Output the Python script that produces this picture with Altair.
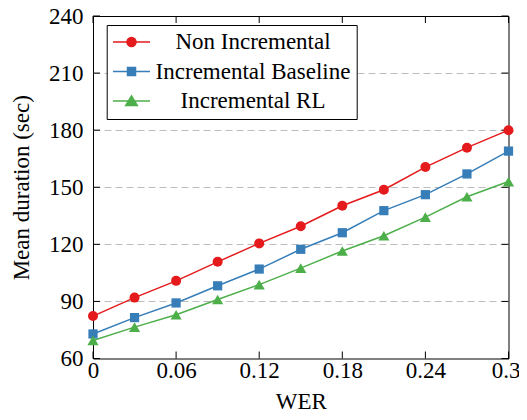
import altair as alt
import pandas as pd

# ---------------- data ----------------
wer = [0, 0.03, 0.06, 0.09, 0.12, 0.15, 0.18, 0.21, 0.24, 0.27, 0.3]
non_incremental = [82.3, 92.0, 100.8, 110.8, 120.5, 129.5, 140.3, 148.7, 160.6, 170.8, 180.0]
incremental_baseline = [72.9, 81.5, 89.2, 98.2, 107.0, 117.4, 126.1, 137.7, 146.1, 157.0, 169.0]
incremental_rl = [69.5, 76.5, 83.0, 91.0, 98.8, 107.5, 116.5, 124.5, 134.3, 145.0, 153.0]

series_names = ["Non Incremental", "Incremental Baseline", "Incremental RL"]
x_ticks = [0, 0.06, 0.12, 0.18, 0.24, 0.3]
y_ticks = [60, 90, 120, 150, 180, 210, 240]

# ---------------- style ----------------
colors = ["#e41a1c", "#377eb8", "#4daf4a"]
shapes = ["circle", "square", "triangle-up"]
marker_sizes = [100, 85, 125]


def circle_path(rs):
    return "".join(f"M{-r},0A{r},{r},0,1,0,{r},0A{r},{r},0,1,0,{-r},0Z" for r in rs)


def square_path(hs):
    return "".join(f"M{-h},{-h}H{h}V{h}H{-h}Z" for h in hs)


def triangle_path(ss):
    cy = 0.1333
    pts = [(0, -0.5), (0.58, 0.45), (-0.58, 0.45)]
    out = ""
    for s in ss:
        p = [(x * s, cy + (y - cy) * s) for x, y in pts]
        out += f"M{p[0][0]:.3f},{p[0][1]:.3f}L{p[1][0]:.3f},{p[1][1]:.3f}L{p[2][0]:.3f},{p[2][1]:.3f}Z"
    return out


LINE = "M-1.85,0H1.85"
legend_paths = [
    LINE + circle_path([0.45, 0.33, 0.21, 0.09]),
    LINE + square_path([0.4, 0.28, 0.16, 0.05]),
    LINE + triangle_path([1.0, 0.75, 0.5, 0.25]),
]

rows = []
for name, vals in zip(series_names, [non_incremental, incremental_baseline, incremental_rl]):
    for xv, yv in zip(wer, vals):
        rows.append({"WER": xv, "duration": yv, "series": name})
df = pd.DataFrame(rows)
xt_df = pd.DataFrame({"t": x_ticks})
yt_df = pd.DataFrame({"t": y_ticks})

FONT = "Liberation Serif"
FS = 23
W, H = 415.5, 342.5
TICK = 7

x_scale = alt.Scale(domain=[0, 0.3], nice=False, zero=False)
y_scale = alt.Scale(domain=[60, 240], nice=False, zero=False)

x_axis = alt.Axis(values=x_ticks, format="~g", title="WER", grid=False, ticks=False,
                  domain=False, labelPadding=1, titlePadding=8, labelFlush=False,
                  labelOffset={"condition": {"test": "datum.value >= 0.29", "value": -3}, "value": 0})
y_axis = alt.Axis(values=y_ticks, title="Mean duration (sec)", grid=True,
                  gridDash=[7, 4], gridColor="#bdbdbd", gridWidth=1,
                  gridOpacity={"condition": {"test": "datum.value == 60 || datum.value == 240", "value": 0}, "value": 1},
                  ticks=False, domain=False, labelPadding=10, titlePadding=15)

X = alt.X("WER:Q", scale=x_scale, axis=x_axis)
Y = alt.Y("duration:Q", scale=y_scale, axis=y_axis)

series_layers = []
for name, col in zip(series_names, colors):
    series_layers.append(
        alt.Chart(df).transform_filter(alt.datum.series == name)
        .mark_line(strokeWidth=1.5, color=col)
        .encode(x=X, y=Y)
    )
for name, col, shp, sz in zip(series_names, colors, shapes, marker_sizes):
    series_layers.append(
        alt.Chart(df).transform_filter(alt.datum.series == name)
        .mark_point(filled=True, opacity=1, size=sz, shape=shp, color=col)
        .encode(x=X, y=Y)
    )

legend_cfg = alt.Legend(
    title=None, orient="none", legendX=13.7, legendY=9, direction="vertical",
    labelFont=FONT, labelFontSize=FS, labelColor="black", labelAlign="center",
    labelLimit=400, labelOffset=110, symbolSize=400, symbolStrokeWidth=1.5,
    symbolOffset=7.8, rowPadding=5.5, padding=5.5, strokeColor="black",
    fillColor="white", cornerRadius=0,
)
legend_layer = alt.Chart(df).transform_filter("false").mark_point(
    filled=False, opacity=1, size=400, strokeWidth=1.5
).encode(
    x=X, y=Y,
    color=alt.Color("series:N", scale=alt.Scale(domain=series_names, range=colors), legend=legend_cfg),
    shape=alt.Shape("series:N", scale=alt.Scale(domain=series_names, range=legend_paths), legend=legend_cfg),
)

# inward tick marks on all four sides
tick_style = dict(color="black", strokeWidth=1)
left_ticks = alt.Chart(yt_df).mark_rule(**tick_style).encode(
    y=alt.Y("t:Q", scale=y_scale, axis=y_axis), x=alt.value(0), x2=alt.value(TICK))
right_ticks = alt.Chart(yt_df).mark_rule(**tick_style).encode(
    y=alt.Y("t:Q", scale=y_scale, axis=y_axis), x=alt.value(W), x2=alt.value(W - TICK))
bottom_ticks = alt.Chart(xt_df).mark_rule(**tick_style).encode(
    x=alt.X("t:Q", scale=x_scale, axis=x_axis), y=alt.value(H), y2=alt.value(H - TICK))
top_ticks = alt.Chart(xt_df).mark_rule(**tick_style).encode(
    x=alt.X("t:Q", scale=x_scale, axis=x_axis), y=alt.value(0), y2=alt.value(TICK))

chart = alt.layer(
    left_ticks, right_ticks, bottom_ticks, top_ticks,
    *series_layers, legend_layer
).properties(
    width=W, height=H,
    background="white",
    autosize=alt.AutoSizeParams(type="none"),
    padding={"left": 85, "top": 8, "right": 10, "bottom": 53.5},
).configure_view(
    stroke="black", strokeWidth=1
).configure_axis(
    labelFont=FONT, titleFont=FONT, labelFontSize=FS, titleFontSize=FS,
    labelColor="black", titleColor="black", titleFontWeight="normal"
)

chart.save("out.html", embed_options={"renderer": "svg", "actions": False})
